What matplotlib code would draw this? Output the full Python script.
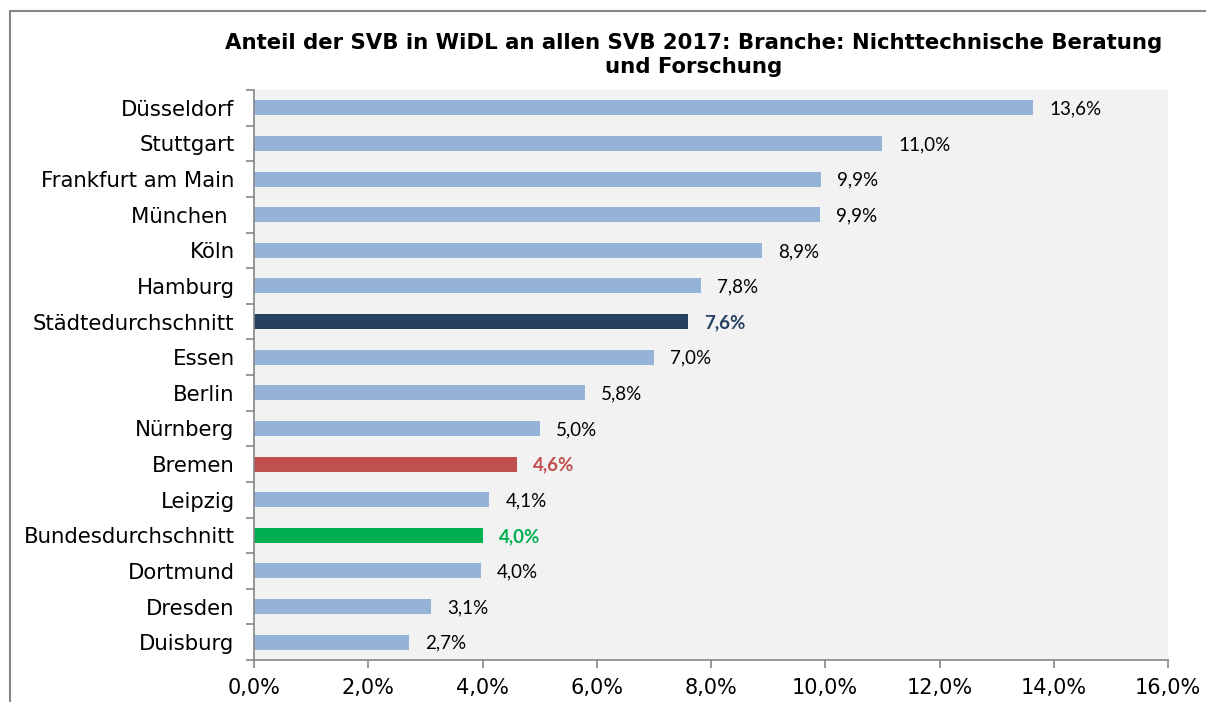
import matplotlib.pyplot as plt
from matplotlib.patches import Rectangle
from matplotlib.ticker import FuncFormatter

# data (top to bottom)
cities = ['Düsseldorf', 'Stuttgart', 'Frankfurt am Main', 'München ', 'Köln', 'Hamburg',
          'Städtedurchschnitt', 'Essen', 'Berlin', 'Nürnberg', 'Bremen', 'Leipzig',
          'Bundesdurchschnitt', 'Dortmund', 'Dresden', 'Duisburg']
shares = [13.64, 11.0, 9.93, 9.9, 8.9, 7.83, 7.6, 7.0, 5.8, 5.0, 4.6, 4.12,
          4.01, 3.97, 3.1, 2.72]
x_ticks = [0, 2, 4, 6, 8, 10, 12, 14, 16]

title = ('Anteil der SVB in WiDL an allen SVB 2017: Branche: Nichttechnische Beratung\n'
         'und Forschung')

# highlighted bars
base_color = '#95B3D7'
highlight = {'Städtedurchschnitt': '#254061', 'Bremen': '#C0504D', 'Bundesdurchschnitt': '#00B050'}

fig = plt.figure(figsize=(12.06, 7.02), dpi=100)
ax = fig.add_axes([254 / 1206, 1 - 660 / 702, 914 / 1206, 570 / 702])
ax.set_facecolor('#F2F2F2')

# outer chart frame (cropped at right/bottom in the reference)
fig.patches.append(Rectangle((10 / 1206, -0.2), 1.5, 1.2 - 11 / 702, transform=fig.transFigure,
                             fill=False, edgecolor='#868686', linewidth=1.5))

pos = list(range(len(cities)))
colors = [highlight.get(c, base_color) for c in cities]
ax.barh(pos, shares, height=0.42, color=colors, zorder=2)

for y, v, c in zip(pos, shares, cities):
    txt = f'{v:.1f}%'.replace('.', ',')
    if c in highlight:
        ax.text(v + 0.28, y + 0.03, txt, va='center', ha='left', fontsize=13.5, family='Lato',
                color=highlight[c], fontweight='bold')
    else:
        ax.text(v + 0.28, y + 0.03, txt, va='center', ha='left', fontsize=13.5, family='Lato',
                color='black')

ax.set_xlim(0, 16)
ax.set_ylim(len(cities) - 0.5, -0.5)
ax.set_xticks(x_ticks)
ax.xaxis.set_major_formatter(FuncFormatter(lambda v, p: f'{v:.1f}%'.replace('.', ',')))

# category labels between boundary ticks
ax.set_yticks(pos)
ax.set_yticklabels(cities)
ax.set_yticks([p - 0.5 for p in pos] + [len(cities) - 0.5], minor=True)
ax.tick_params(axis='y', which='major', length=0, pad=14, labelsize=15.3)
ax.tick_params(axis='y', which='minor', length=6, color='#868686', width=1.2)
ax.tick_params(axis='x', length=6, color='#868686', width=1.2, labelsize=15, pad=7)

for side in ['top', 'right']:
    ax.spines[side].set_visible(False)
for side in ['left', 'bottom']:
    ax.spines[side].set_color('#868686')
    ax.spines[side].set_linewidth(1.2)

fig.text(694 / 1206, 1 - 55 / 702, title, ha='center', va='center', fontsize=15.3,
         fontweight='bold', linespacing=1.2)

fig.savefig('out.png', dpi=100)
